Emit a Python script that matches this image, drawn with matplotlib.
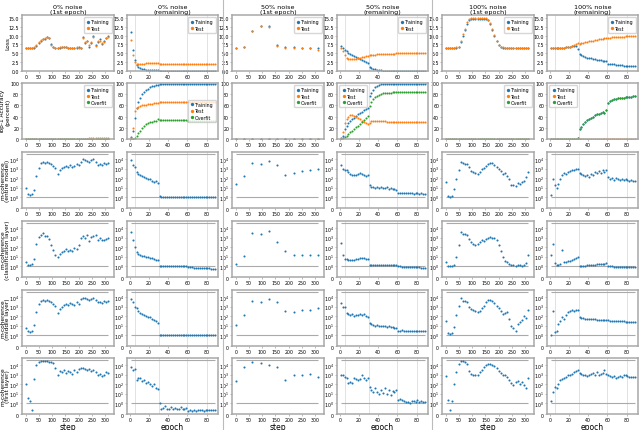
import matplotlib
matplotlib.use('Agg')
import matplotlib.pyplot as plt
import numpy as np
from matplotlib.lines import Line2D
from matplotlib.ticker import NullLocator

# ---- x positions ----
steps = np.arange(0, 313, 8)                     # 1st epoch, dense logging
steps_50 = [0, 31, 62, 94, 125, 156, 187, 219, 250, 281, 312]
epochs = np.arange(1, 90, 2)                     # remaining epochs
lr_epochs = [5, 30, 60, 80]
coh_top = 3.2e4

col_titles = ['0% noise\n(1st epoch)', '0% noise\n(remaining)',
              '50% noise\n(1st epoch)', '50% noise\n(remaining)',
              '100% noise\n(1st epoch)', '100% noise\n(remaining)']
row_labels = ['Loss', 'Top-1 Accuracy\n(percent)',
              'm-coherence\n(entire model)', 'm-coherence\n(classification layer)',
              'm-coherence\n(middle layer)', 'm-coherence\n(first layer)']

# ---- loss ----
loss_tr_0_first = [6.5, 6.5, 6.5, 6.5, 6.6, 7.0, 8.0, 8.6, 8.9, 9.1, 9.6, 9.4, 7.6, 6.8, 6.5, 6.6, 6.6, 6.7, 6.9, 6.8,
                   6.6, 6.5, 6.6, 6.4, 6.6, 6.7, 6.5, 9.5, 7.8, 8.6, 6.9, 8.0, 9.8, 7.2, 8.2, 8.9, 7.5, 8.4, 9.2, 9.8]
loss_te_0_first = [6.6, 6.5, 6.6, 6.5, 6.7, 7.2, 8.2, 8.7, 9.0, 9.3, 9.7, 9.3, 7.4, 6.7, 6.6, 6.5, 6.7, 6.8, 6.8, 6.7,
                   6.6, 6.6, 6.5, 6.5, 6.7, 6.6, 6.6, 9.2, 8.1, 8.4, 7.2, 8.3, 9.5, 7.0, 8.5, 8.6, 7.8, 8.1, 9.4, 9.6]
loss_tr_0_rest = [11.0, 6.0, 3.0, 1.6, 1.1, 0.8, 0.6, 0.45, 0.35, 0.3, 0.25, 0.22, 0.2, 0.2, 0.18,
                  0.1, 0.09, 0.08, 0.08, 0.07, 0.07, 0.07, 0.06, 0.06, 0.06, 0.06, 0.05, 0.05, 0.05, 0.05,
                  0.05, 0.05, 0.05, 0.05, 0.05, 0.05, 0.05, 0.05, 0.05, 0.05, 0.05, 0.05, 0.05, 0.05, 0.05]
loss_te_0_rest = [8.8, 4.5, 2.4, 1.9, 1.9, 2.0, 2.0, 2.1, 2.2, 2.3, 2.3, 2.3, 2.2, 2.2, 2.2,
                  2.0, 2.0, 2.0, 2.0, 2.0, 2.0, 2.0, 2.0, 2.0, 2.0, 2.0, 2.0, 2.0, 2.0, 2.0,
                  2.0, 2.0, 2.0, 2.0, 2.0, 2.0, 2.0, 2.0, 2.0, 2.0, 2.0, 2.0, 2.0, 2.0, 2.0]
loss_tr_50_first = [6.6, 6.7, 11.3, 12.8, 12.7, 7.2, 6.7, 6.7, 6.6, 6.5, 6.4]
loss_te_50_first = [6.6, 6.7, 11.2, 12.6, 12.5, 7.0, 6.6, 6.6, 6.6, 6.6, 6.0]
loss_tr_50_rest = [7.0, 6.5, 6.0, 5.6, 5.2, 4.9, 4.6, 4.3, 4.0, 3.7, 3.4, 3.1, 2.8, 2.5, 2.2,
                   1.2, 0.9, 0.65, 0.45, 0.3, 0.22, 0.17, 0.14, 0.12, 0.11, 0.1, 0.1, 0.1, 0.1, 0.1,
                   0.1, 0.1, 0.1, 0.1, 0.1, 0.1, 0.1, 0.1, 0.1, 0.1, 0.1, 0.1, 0.1, 0.1, 0.1]
loss_te_50_rest = [6.5, 5.6, 4.5, 3.8, 3.4, 3.3, 3.3, 3.4, 3.5, 3.7, 3.8, 3.9, 4.0, 4.2, 4.3,
                   4.4, 4.5, 4.6, 4.65, 4.7, 4.75, 4.8, 4.82, 4.85, 4.87, 4.9, 4.9, 4.92, 4.93, 4.95,
                   4.95, 4.95, 4.96, 4.96, 4.97, 4.97, 4.97, 4.98, 4.98, 4.98, 4.99, 4.99, 5.0, 5.0, 5.0]
loss_tr_100_first = [6.5, 6.5, 6.5, 6.5, 6.5, 6.6, 6.8, 8.3, 10.0, 11.6, 13.4, 14.3, 14.6, 14.7, 14.7, 14.7, 14.7,
                     14.7, 14.6, 14.6, 14.3, 13.3, 11.7, 9.9, 8.4, 7.3, 6.8, 6.6, 6.5, 6.5, 6.5, 6.5, 6.5, 6.5,
                     6.5, 6.5, 6.5, 6.5, 6.5, 6.5]
loss_te_100_first = [6.6, 6.6, 6.6, 6.6, 6.6, 6.7, 6.9, 8.5, 10.3, 11.9, 13.7, 14.6, 14.9, 15.0, 15.0, 15.0, 15.0,
                     15.0, 14.9, 14.9, 14.5, 13.5, 11.9, 10.1, 8.6, 7.4, 6.9, 6.7, 6.6, 6.6, 6.6, 6.6, 6.6, 6.6,
                     6.6, 6.6, 6.6, 6.6, 6.6, 6.6]
loss_tr_100_rest = [6.6, 6.6, 6.5, 6.5, 6.5, 6.5, 6.6, 6.6, 6.7, 6.8, 6.9, 7.0, 7.0, 7.0, 6.3,
                    4.7, 4.4, 4.2, 4.0, 3.8, 3.7, 3.55, 3.4, 3.3, 3.2, 3.1, 3.0, 2.9, 2.8, 2.7,
                    2.1, 2.0, 1.9, 1.85, 1.8, 1.7, 1.65, 1.6, 1.55, 1.5, 1.45, 1.4, 1.4, 1.35, 1.35]
loss_te_100_rest = [6.5, 6.5, 6.5, 6.5, 6.5, 6.5, 6.6, 6.6, 6.7, 6.8, 6.9, 7.1, 7.3, 7.6, 8.0,
                    7.6, 7.8, 8.0, 8.1, 8.3, 8.4, 8.5, 8.6, 8.7, 8.8, 8.9, 9.0, 9.1, 9.2, 9.3,
                    9.4, 9.45, 9.5, 9.55, 9.6, 9.6, 9.65, 9.7, 9.7, 9.75, 9.75, 9.8, 9.8, 9.8, 9.8]

# ---- top-1 accuracy (percent) ----
acc_tr_0_first = [0.1, 0.1, 0.1, 0.1, 0.1, 0.1, 0.1, 0.1, 0.1, 0.1, 0.1, 0.1, 0.1, 0.1, 0.1, 0.1, 0.1, 0.1, 0.1, 0.1,
                  0.1, 0.1, 0.1, 0.1, 0.1, 0.1, 0.1, 0.1, 0.1, 0.1, 0.1, 0.1, 0.1, 0.1, 0.1, 0.1, 0.1, 0.1, 0.1, 0.1]
acc_te_0_first = [0.1, 0.1, 0.1, 0.1, 0.1, 0.1, 0.1, 0.1, 0.1, 0.1, 0.1, 0.1, 0.1, 0.1, 0.1, 0.1, 0.1, 0.1, 0.1, 0.1,
                  0.1, 0.1, 0.1, 0.2, 0.2, 0.3, 0.3, 0.5, 0.6, 0.8, 1.0, 0.9, 1.1, 1.0, 1.2, 1.0, 1.1, 1.2, 1.0, 1.1]
acc_of_0_first = [0.0, 0.0, 0.0, 0.0, 0.0, 0.0, 0.0, 0.0, 0.0, 0.0, 0.0, 0.0, 0.0, 0.0, 0.0, 0.0, 0.0, 0.0, 0.0, 0.0,
                  0.0, 0.0, 0.0, 0.0, 0.0, 0.0, 0.0, 0.0, 0.0, 0.0, 0.0, 0.0, 0.0, 0.0, 0.0, 0.0, 0.0, 0.0, 0.0, 0.0]
acc_tr_0_rest = [3, 15, 38, 55, 66, 74, 80, 84, 88, 90, 92, 94, 95, 96, 97,
                 98.5, 99, 99, 99, 99, 99, 99, 99, 99, 99, 99, 99, 99, 99, 99,
                 99, 99, 99, 99, 99, 99, 99, 99, 99, 99, 99, 99, 99, 99, 99]
acc_te_0_rest = [2, 20, 50, 56, 58, 59, 60, 61, 61.5, 62, 62.5, 63, 63.5, 64, 64,
                 66.5, 66.5, 66.5, 66.5, 66.5, 66.5, 66.5, 66.5, 66.5, 66.5, 66.5, 66.5, 66.5, 66.5, 66.5,
                 66.5, 66.5, 66.5, 66.5, 66.5, 66.5, 66.5, 66.5, 66.5, 66.5, 66.5, 66.5, 66.5, 66.5, 66.5]
acc_of_0_rest = [0, 0, 2, 5, 10, 15, 20, 23, 26, 28, 30, 31, 32, 33, 35.5,
                 34, 33.5, 33.5, 33.4, 33.4, 33.3, 33.3, 33.3, 33.2, 33.2, 33.2, 33.1, 33.1, 33.1, 33.1,
                 33, 33, 33, 33, 33, 33, 33, 33, 33, 33, 33, 33, 33, 33, 33]
acc_tr_50_first = [0.1, 0.1, 0.1, 0.1, 0.1, 0.1, 0.1, 0.1, 0.1, 0.1, 0.1]
acc_te_50_first = [0.1, 0.1, 0.1, 0.1, 0.1, 0.1, 0.1, 0.1, 0.1, 0.1, 0.8]
acc_of_50_first = [0.0, 0.0, 0.0, 0.0, 0.0, 0.0, 0.0, 0.0, 0.0, 0.0, 0.0]
acc_tr_50_rest = [1, 6, 18, 24, 29, 32, 35, 38, 41, 44, 46, 49, 51, 54, 56,
                  76, 83, 88, 92, 95, 97, 98, 98.5, 99, 99, 99, 99, 99, 99, 99,
                  99, 99, 99, 99, 99, 99, 99, 99, 99, 99, 99, 99, 99, 99, 99]
acc_te_50_rest = [1, 12, 29, 36, 40, 42, 42, 41, 39, 37, 35, 33, 31, 29, 26,
                  29, 32, 33, 33, 32.5, 32, 31.8, 31.5, 31.3, 31.2, 31, 31, 30.9, 30.8, 30.8,
                  30.7, 30.7, 30.6, 30.6, 30.5, 30.5, 30.5, 30.4, 30.4, 30.4, 30.3, 30.3, 30.3, 30.2, 30.2]
acc_of_50_rest = [0, 1, 3, 5, 9, 12, 15, 18, 21, 24, 27, 31, 34, 38, 41,
                  59, 66, 71, 75, 77, 79, 80.5, 81.5, 82, 82.5, 83, 83, 83.3, 83.5, 83.6,
                  83.7, 83.8, 83.9, 84, 84, 84, 84.1, 84.1, 84.2, 84.2, 84.3, 84.3, 84.3, 84.4, 84.4]
acc_tr_100_first = acc_tr_0_first
acc_te_100_first = [0.1, 0.1, 0.1, 0.1, 0.1, 0.1, 0.1, 0.1, 0.1, 0.1, 0.1, 0.1, 0.1, 0.1, 0.1, 0.1, 0.1, 0.1, 0.1, 0.1,
                    0.1, 0.1, 0.1, 0.1, 0.1, 0.1, 0.1, 0.1, 0.1, 0.1, 0.1, 0.1, 0.1, 0.1, 0.1, 0.1, 0.1, 0.1, 0.1, 0.1]
acc_of_100_first = acc_of_0_first
acc_tr_100_rest = [0.1, 0.1, 0.1, 0.1, 0.1, 0.1, 0.1, 0.1, 0.1, 0.1, 0.1, 0.1, 0.1, 0.1, 2,
                   17, 22, 27, 31, 34, 36, 38, 40, 42, 44, 45, 47, 48, 46, 52,
                   64, 67, 69, 71, 72, 72.5, 73, 73.5, 74, 74.5, 75, 75, 75.5, 76, 76]
acc_te_100_rest = [0.1, 0.1, 0.1, 0.1, 0.1, 0.1, 0.1, 0.1, 0.1, 0.1, 0.1, 0.1, 0.1, 0.1, 0.1,
                   0.1, 0.1, 0.1, 0.1, 0.1, 0.1, 0.1, 0.1, 0.1, 0.1, 0.1, 0.1, 0.1, 0.1, 0.1,
                   0.1, 0.1, 0.1, 0.1, 0.1, 0.1, 0.1, 0.1, 0.1, 0.1, 0.1, 0.1, 0.1, 0.1, 0.1]
acc_of_100_rest = [0.0, 0.0, 0.0, 0.0, 0.0, 0.0, 0.0, 0.0, 0.0, 0.0, 0.0, 0.0, 0.0, 0.0, 1.9,
                   17, 22, 27, 31, 34, 36, 38, 40, 42, 44, 45, 47, 48, 46, 52,
                   64, 67, 69, 71, 72, 72.5, 73, 73.5, 74, 74.5, 75, 75, 75.5, 76, 76]

# ---- m-coherence, as log10 values ----
coh_entire_0_first = [1.0, 0.35, 0.25, 0.3, 0.8, 2.2, 3.1, 3.6, 3.7, 3.6, 3.7, 3.6, 3.5, 3.3, 3.1, 2.4, 2.8, 3.1, 3.2, 3.3,
                      3.2, 3.4, 3.2, 3.3, 3.5, 3.4, 3.7, 4.0, 3.9, 3.8, 3.7, 3.9, 4.0, 3.7, 3.4, 3.5, 3.4, 3.6, 3.5, 3.6]
coh_class_0_first = [0.4, 0.15, 0.15, 0.2, 0.8, 2.3, 3.1, 3.3, 3.5, 3.2, 3.2, 2.8, 2.2, 1.7, 1.2, 1.0, 1.3, 1.5, 1.6, 1.8,
                     1.6, 1.7, 1.6, 1.9, 1.8, 2.2, 3.0, 3.2, 3.0, 3.3, 2.6, 3.1, 3.2, 3.3, 2.7, 2.9, 2.7, 2.7, 2.8, 3.0]
coh_middle_0_first = [0.8, 0.4, 0.3, 0.4, 1.1, 2.4, 3.3, 3.6, 3.65, 3.6, 3.7, 3.6, 3.5, 3.3, 3.1, 2.3, 2.7, 3.0, 3.2, 3.3,
                      3.2, 3.4, 3.3, 3.2, 3.5, 3.3, 3.8, 3.9, 3.9, 3.8, 3.7, 3.8, 3.9, 3.7, 3.5, 3.5, 3.4, 3.6, 3.5, 3.6]
coh_first_0_first = [2.0, 0.6, 0.2, -0.4, 2.5, 4.0, 4.3, 4.4, 4.4, 4.4, 4.4, 4.35, 4.3, 4.2, 3.7, 3.0, 3.4, 3.3, 3.5, 3.2,
                     3.4, 3.3, 3.1, 3.5, 3.3, 3.6, 3.7, 3.7, 3.6, 3.5, 3.6, 3.4, 3.5, 3.3, 2.9, 3.1, 2.8, 3.0, 3.3, 3.2]

coh_entire_0_rest = [3.9, 3.4, 3.2, 2.6, 2.4, 2.3, 2.2, 2.1, 2.05, 1.95, 1.9, 1.75, 1.6, 1.65, 1.45,
                     0.1, 0.08, 0.07, 0.06, 0.07, 0.05, 0.06, 0.05, 0.05, 0.04, 0.05, 0.04, 0.04, 0.03, 0.04,
                     0.03, 0.03, 0.02, 0.03, 0.02, 0.02, 0.02, 0.01, 0.02, 0.01, 0.01, 0.0, 0.01, 0.0, 0.0]
coh_class_0_rest = [3.6, 2.7, 2.0, 1.5, 1.3, 1.2, 1.1, 1.05, 1.0, 0.95, 0.9, 0.85, 0.75, 0.7, 0.65,
                    0.08, 0.06, 0.05, 0.06, 0.04, 0.05, 0.04, 0.03, 0.04, 0.03, 0.03, 0.02, 0.03, 0.02, 0.02,
                    -0.04, -0.05, -0.05, -0.06, -0.06, -0.07, -0.07, -0.08, -0.08, -0.08, -0.09, -0.09, -0.1, -0.1, -0.1]
coh_middle_0_rest = [3.8, 3.5, 3.0, 2.8, 2.5, 2.35, 2.2, 2.1, 2.05, 1.95, 1.9, 1.75, 1.6, 1.5, 1.3,
                     0.05, 0.05, 0.04, 0.05, 0.03, 0.04, 0.03, 0.04, 0.03, 0.03, 0.04, 0.03, 0.03, 0.02, 0.03,
                     0.03, 0.02, 0.03, 0.02, 0.02, 0.03, 0.02, 0.02, 0.02, 0.02, 0.02, 0.01, 0.02, 0.01, 0.01]
coh_first_0_rest = [3.8, 3.5, 3.6, 2.4, 2.6, 2.6, 2.3, 2.4, 2.1, 2.2, 2.0, 1.8, 2.0, 1.6, 1.5,
                    0.0, -0.3, -0.25, -0.1, -0.3, -0.35, -0.2, -0.3, -0.25, -0.35, -0.3, -0.2, -0.3, -0.35, -0.25,
                    -0.5, -0.45, -0.5, -0.45, -0.5, -0.45, -0.4, -0.45, -0.5, -0.45, -0.4, -0.45, -0.45, -0.4, -0.45]

coh_entire_50_first = [1.35, 2.2, 3.6, 3.5, 3.8, 3.35, 2.35, 2.55, 2.7, 2.8, 2.9]
coh_class_50_first = [0.2, 1.05, 3.45, 3.35, 3.65, 2.5, 1.6, 1.15, 1.15, 1.2, 1.2]
coh_middle_50_first = [1.05, 2.1, 3.6, 3.5, 3.8, 3.5, 2.5, 2.4, 2.6, 2.6, 2.8]
coh_first_50_first = [2.3, 3.8, 4.3, 4.15, 4.0, 3.8, 2.45, 2.9, 3.0, 3.05, 2.75]

coh_entire_50_rest = [3.4, 2.9, 2.8, 2.8, 2.6, 2.4, 2.35, 2.3, 2.3, 2.45, 2.5, 2.4, 2.3, 2.2, 2.35,
                      1.25, 1.1, 1.05, 1.0, 1.1, 1.0, 1.05, 0.95, 1.0, 1.05, 0.9, 1.0, 0.85, 0.9, 0.75,
                      0.42, 0.41, 0.4, 0.41, 0.4, 0.4, 0.41, 0.4, 0.39, 0.4, 0.4, 0.39, 0.4, 0.39, 0.39]
coh_class_50_rest = [2.4, 1.2, 0.8, 0.75, 0.7, 0.7, 0.7, 0.7, 0.75, 0.8, 0.85, 0.85, 0.85, 0.8, 0.8,
                     0.15, 0.16, 0.15, 0.16, 0.15, 0.16, 0.15, 0.15, 0.16, 0.15, 0.15, 0.14, 0.15, 0.14, 0.14,
                     0.0, 0.0, -0.01, -0.02, -0.02, -0.03, -0.03, -0.04, -0.04, -0.05, -0.05, -0.05, -0.06, -0.06, -0.06]
coh_middle_50_rest = [3.4, 3.0, 2.9, 2.3, 2.2, 2.1, 2.2, 2.0, 2.1, 2.15, 2.2, 2.1, 2.2, 2.05, 1.9,
                      1.25, 1.15, 1.1, 1.0, 1.05, 1.0, 0.95, 1.0, 0.95, 0.9, 0.95, 0.9, 0.85, 0.8, 0.75,
                      0.5, 0.5, 0.51, 0.5, 0.5, 0.49, 0.5, 0.5, 0.5, 0.49, 0.5, 0.5, 0.5, 0.49, 0.5]
coh_first_50_rest = [2.9, 2.9, 2.7, 2.6, 2.1, 2.2, 2.1, 2.6, 2.5, 2.4, 2.5, 2.9, 2.6, 2.4, 2.6,
                     1.7, 1.4, 1.2, 1.6, 1.2, 1.0, 1.4, 1.1, 1.6, 1.0, 1.4, 0.9, 1.3, 1.2, 1.4,
                     0.3, 0.4, 0.35, 0.25, 0.1, 0.15, 0.05, 0.25, 0.2, 0.1, 0.3, 0.15, 0.2, 0.1, 0.1]

coh_entire_100_first = [1.6, 0.1, 0.05, 0.1, 0.9, 1.9, 2.8, 3.7, 3.6, 3.5, 3.5, 3.2, 2.7, 2.6, 2.5, 2.4, 2.6, 2.9, 3.1, 3.3,
                        3.5, 3.6, 3.6, 3.4, 3.2, 3.0, 2.7, 2.4, 2.5, 2.2, 1.9, 1.3, 1.25, 1.2, 1.5, 1.4, 1.6, 1.7, 2.1, 2.6]
coh_class_100_first = [0.4, 0.05, 0.05, 0.05, 0.1, 1.0, 2.2, 3.6, 3.4, 3.4, 3.3, 2.8, 2.5, 2.3, 2.2, 2.3, 2.5, 2.7, 2.6, 2.8,
                       3.0, 3.1, 3.0, 2.9, 2.7, 2.2, 1.6, 1.0, 0.6, 0.4, 0.2, 0.1, 0.1, 0.05, 0.1, 0.1, 0.05, 0.1, 0.3, 1.2]
coh_middle_100_first = [1.5, 0.2, 0.15, 0.2, 0.9, 2.1, 3.1, 3.85, 3.6, 3.55, 3.5, 3.0, 2.7, 2.6, 2.5, 2.4, 2.5, 2.8, 3.1, 3.5,
                        3.7, 3.7, 3.6, 3.4, 3.1, 2.8, 2.5, 2.2, 2.3, 2.4, 1.7, 1.0, 0.8, 0.5, 1.2, 1.4, 1.6, 2.0, 1.8, 2.6]
coh_first_100_first = [2.8, 0.3, -0.4, 0.2, 2.0, 3.3, 4.1, 4.4, 4.4, 4.3, 4.05, 3.4, 3.1, 2.95, 2.9, 3.0, 3.3, 3.5, 3.8, 3.95,
                       4.05, 4.05, 4.0, 3.9, 3.7, 3.4, 3.2, 3.0, 2.9, 2.7, 2.45, 2.1, 1.9, 2.2, 2.3, 2.0, 2.2, 1.9, 1.6, 2.65]

coh_entire_100_rest = [0.2, 1.9, 1.3, 1.0, 1.4, 1.9, 2.3, 2.5, 2.4, 2.6, 2.7, 2.8, 2.8, 2.9, 3.0,
                       2.5, 2.4, 2.3, 2.2, 2.3, 2.1, 2.4, 2.3, 2.6, 2.5, 2.7, 2.5, 2.8, 2.6, 2.8,
                       2.1, 1.9, 2.0, 1.8, 2.0, 1.9, 1.8, 1.9, 1.8, 1.9, 1.8, 1.7, 1.8, 1.75, 1.75]
coh_class_100_rest = [1.2, 2.3, 0.3, 0.1, 0.15, 0.2, 1.75, 0.4, 0.5, 0.55, 0.6, 0.7, 0.75, 0.9, 1.0,
                      0.0, 0.02, 0.05, 0.07, 0.1, 0.12, 0.14, 0.16, 0.18, 0.2, 0.22, 0.24, 0.26, 0.28, 0.3,
                      0.02, 0.0, 0.0, -0.01, -0.01, -0.02, -0.02, -0.03, -0.03, -0.03, -0.04, -0.04, -0.05, -0.05, -0.05]
coh_middle_100_rest = [0.05, 2.5, 0.3, 0.5, 1.2, 1.5, 1.9, 1.75, 2.1, 2.4, 2.5, 2.6, 2.55, 2.6, 2.65,
                       1.95, 1.85, 1.8, 1.75, 1.72, 1.7, 1.68, 1.65, 1.7, 1.62, 1.6, 1.62, 1.58, 1.55, 1.6,
                       1.55, 1.52, 1.5, 1.5, 1.48, 1.47, 1.46, 1.45, 1.45, 1.44, 1.43, 1.42, 1.42, 1.41, 1.4]
coh_first_100_rest = [0.2, 1.2, 1.75, 1.6, 2.0, 2.4, 2.5, 2.6, 2.7, 2.9, 3.0, 3.1, 3.3, 3.4, 3.5,
                      3.2, 3.1, 3.0, 2.9, 2.8, 3.0, 3.1, 3.15, 3.0, 3.3, 2.9, 3.1, 3.2, 3.5, 3.1,
                      2.9, 2.8, 2.7, 2.8, 2.6, 2.7, 2.8, 2.7, 2.9, 3.0, 2.8, 2.7, 2.7, 2.75, 2.7]

# ---- table of what goes where ----
col_x = [steps, epochs, steps_50, epochs, steps, epochs]
col_loss = [(loss_tr_0_first, loss_te_0_first), (loss_tr_0_rest, loss_te_0_rest),
            (loss_tr_50_first, loss_te_50_first), (loss_tr_50_rest, loss_te_50_rest),
            (loss_tr_100_first, loss_te_100_first), (loss_tr_100_rest, loss_te_100_rest)]
col_acc = [(acc_tr_0_first, acc_te_0_first, acc_of_0_first), (acc_tr_0_rest, acc_te_0_rest, acc_of_0_rest),
           (acc_tr_50_first, acc_te_50_first, acc_of_50_first), (acc_tr_50_rest, acc_te_50_rest, acc_of_50_rest),
           (acc_tr_100_first, acc_te_100_first, acc_of_100_first), (acc_tr_100_rest, acc_te_100_rest, acc_of_100_rest)]
col_coh = [(coh_entire_0_first, coh_class_0_first, coh_middle_0_first, coh_first_0_first),
           (coh_entire_0_rest, coh_class_0_rest, coh_middle_0_rest, coh_first_0_rest),
           (coh_entire_50_first, coh_class_50_first, coh_middle_50_first, coh_first_50_first),
           (coh_entire_50_rest, coh_class_50_rest, coh_middle_50_rest, coh_first_50_rest),
           (coh_entire_100_first, coh_class_100_first, coh_middle_100_first, coh_first_100_first),
           (coh_entire_100_rest, coh_class_100_rest, coh_middle_100_rest, coh_first_100_rest)]
acc_legend_loc = ['upper right', 'center right', 'upper right', 'upper left', 'upper right', 'upper left']

blue, orange, green = '#1f77b4', '#ff7f0e', '#2ca02c'
mk = dict(ls='none', marker='o', ms=1.5, mew=0)

# layout in pixels (640 x 431)
W, H = 640, 431
col_left = [22, 127, 232, 337, 442, 547]
col_w = [92, 91, 92, 91, 92, 91]
row_top = [16, 84, 153, 222, 291, 359]
row_h = 56

fig = plt.figure(figsize=(6.4, 4.31), dpi=100)

for c in range(6):
    x = col_x[c]
    is_epoch = (c % 2 == 1)
    for r in range(6):
        ax = fig.add_axes([col_left[c] / W, 1 - (row_top[r] + row_h) / H, col_w[c] / W, row_h / H])
        for s in ax.spines.values():
            s.set_color('#a8a8a8')
            s.set_linewidth(1.1)
        ax.tick_params(labelsize=3.4, length=1.2, width=0.4, pad=0.8, color='#888888')
        if is_epoch:
            for e in lr_epochs:
                ax.axvline(e, color='#dddddd', lw=0.6, zorder=0)
            ax.set_xlim(-3, 92)
            ax.set_xticks([0, 20, 40, 60, 80])
        else:
            ax.set_xlim(-15, 334)
            ax.set_xticks([0, 50, 100, 150, 200, 250, 300])

        if r == 0:
            tr, te = col_loss[c]
            ax.plot(x, tr, color=blue, label='Training', **mk)
            ax.plot(x, te, color=orange, label='Test', **mk)
            ax.set_ylim(0, 15.8)
            ax.set_yticks([0, 2.5, 5, 7.5, 10, 12.5, 15])
            ax.set_yticklabels(['0.0', '2.5', '5.0', '7.5', '10.0', '12.5', '15.0'])
            ax.legend(loc='upper right', fontsize=3.4, markerscale=1.6, handletextpad=0.2,
                      borderpad=0.4, labelspacing=0.3, handlelength=1.0, edgecolor='#cccccc')
            ax.set_title(col_titles[c], fontsize=4.6, pad=1.2, linespacing=1.0)
        elif r == 1:
            tr, te, of = col_acc[c]
            ax.plot(x, tr, color=blue, label='Training', **mk)
            ax.plot(x, te, color=orange, label='Test', **mk)
            ax.plot(x, of, color=green, label='Overfit', **mk)
            ax.set_ylim(0, 100)
            ax.set_yticks([0, 20, 40, 60, 80, 100])
            ax.legend(loc=acc_legend_loc[c], fontsize=3.4, markerscale=1.6, handletextpad=0.2,
                      borderpad=0.4, labelspacing=0.3, handlelength=1.0, edgecolor='#cccccc')
        else:
            vals = 10.0 ** np.array(col_coh[c][r - 2])
            ax.set_yscale('symlog', linthresh=1, linscale=1)
            ax.hlines([1, coh_top], x[0], x[-1], color='#aaaaaa', lw=0.8, zorder=1)
            ax.plot(x, vals, color=blue, **mk)
            ax.set_ylim(0, 10 ** 4.72)
            ax.set_yticks([0, 1, 10, 100, 1000, 10000])
            ax.yaxis.set_minor_locator(NullLocator())

        if c == 0:
            ax.set_ylabel(row_labels[r], fontsize=4.2, linespacing=1.0)
            ax.yaxis.set_label_coords(-0.125, 0.5)
        if r == 5:
            ax.set_xlabel('epoch' if is_epoch else 'step', fontsize=5.5, labelpad=0)

for xs in [223, 432]:
    fig.add_artist(Line2D([xs / W, xs / W], [0, 1], color='#bbbbbb', lw=0.8))

fig.savefig('out.png', dpi=100)
